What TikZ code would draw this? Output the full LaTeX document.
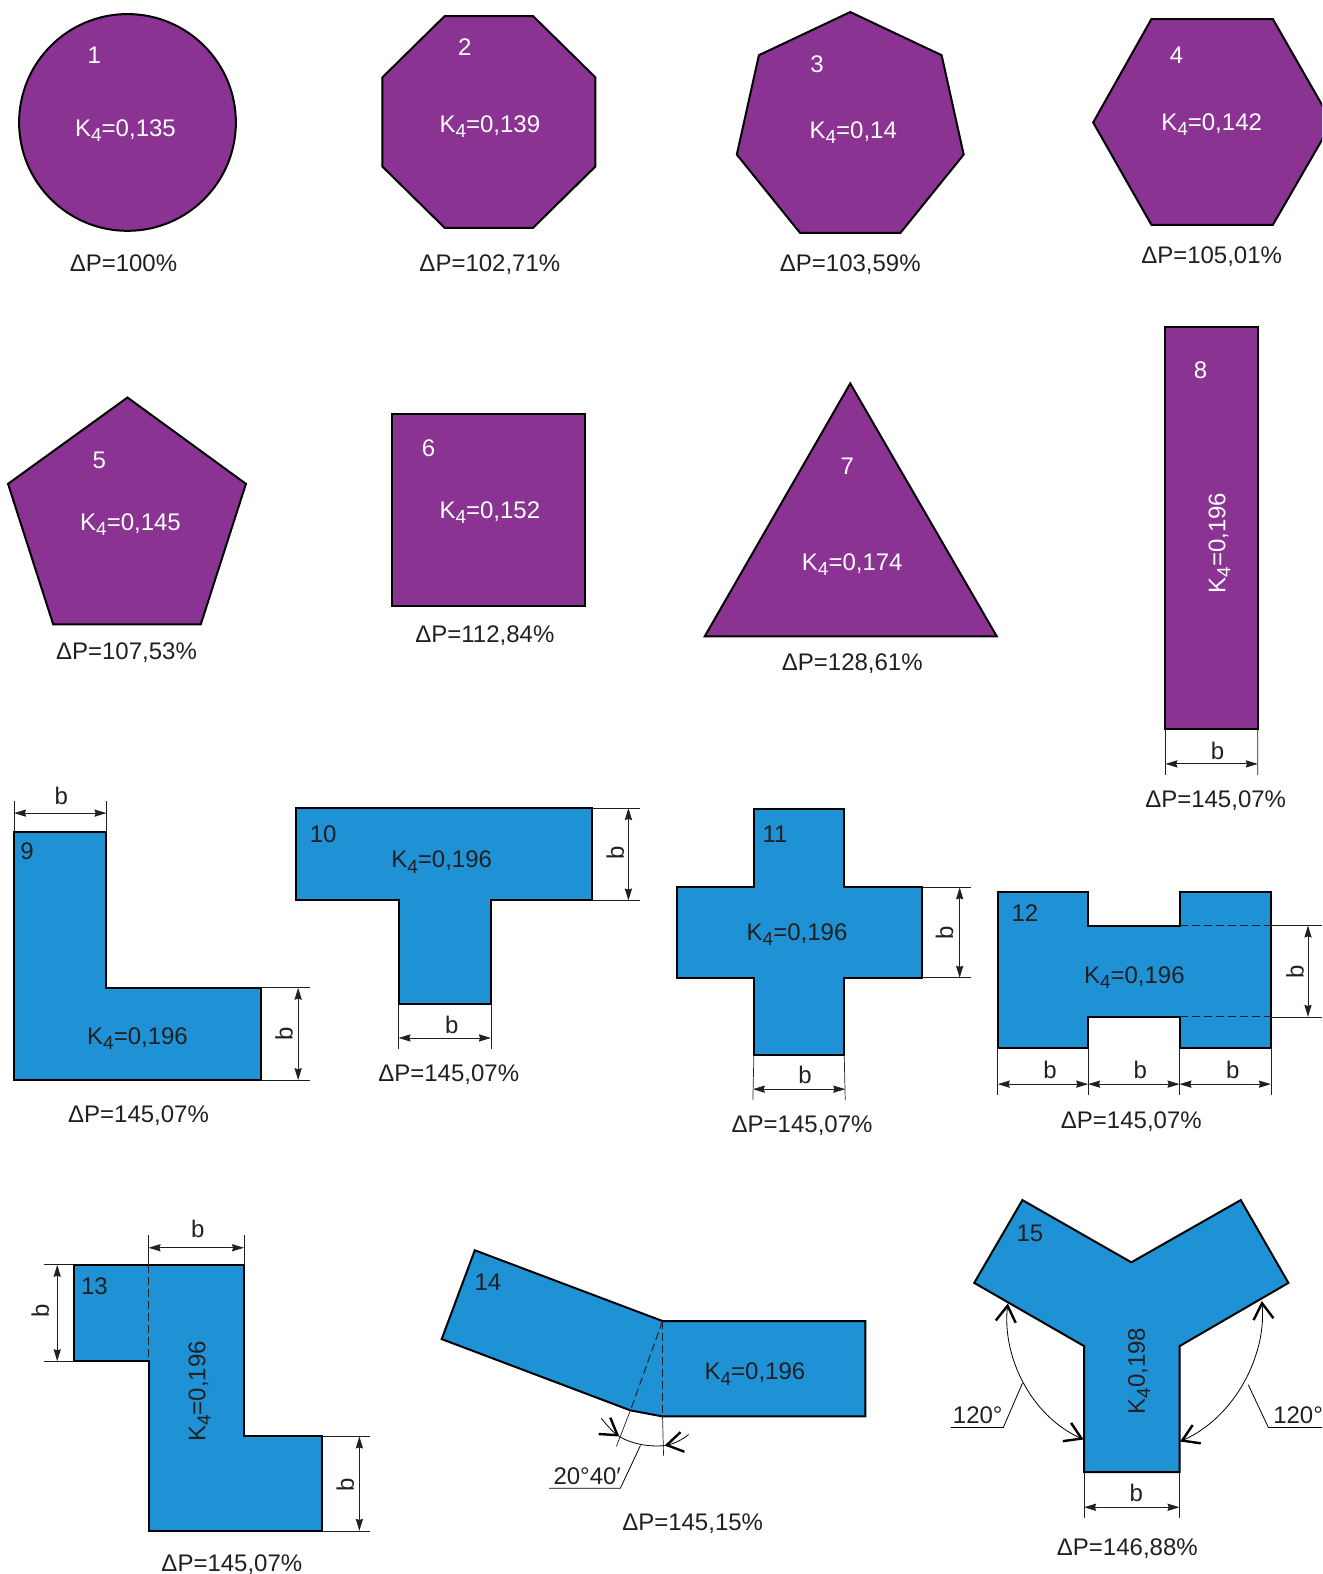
\documentclass[tikz,border=0pt]{standalone}
\usepackage{fontspec}
\setmainfont{Liberation Sans}
\usetikzlibrary{arrows.meta}
\definecolor{shapepurple}{RGB}{139,51,146}
\definecolor{shapeblue}{RGB}{30,146,212}
\definecolor{inkdark}{RGB}{35,31,32}
\newcommand{\kfour}{K\raisebox{-2.6pt}{\fontsize{9.5}{11}\selectfont 4}}
\tikzset{
    purpleshape/.style = {draw = black, fill = shapepurple, line width = 1pt, inner sep = 0pt, outer sep = 0pt, line join = miter},
    blueshape/.style = {draw = black, fill = shapeblue, line width = 1pt, line join = miter},
    txt/.style = {inkdark, inner sep = 0pt, text height = 8.6pt, text depth = 0pt, font = \fontsize{12}{14}\selectfont},
    whitetxt/.style = {txt, white},
    extline/.style = {draw = inkdark, line width = 0.35pt},
    dimline/.style = {draw = inkdark, line width = 0.45pt, {Stealth[length = 6pt, width = 3.6pt, inset = 0.6pt]}-{Stealth[length = 6pt, width = 3.6pt, inset = 0.6pt]}},
    hiddenline/.style = {draw = inkdark, line width = 0.5pt, dash pattern = on 4pt off 2pt},
    anglearc/.style = {draw = black, line width = 0.4pt},
    angletip/.style = {{Straight Barb[length = 8pt, width = 10pt, line width = 1.2pt]}-{Straight Barb[length = 8pt, width = 10pt, line width = 1.2pt]}},
    angleend/.style = {-{Straight Barb[length = 8pt, width = 10pt, line width = 1.2pt]}}
}
\begin{document}
\begin{tikzpicture}[x = 0.502pt, y = -0.502pt]
    \useasboundingbox (0,0) rectangle (1317,1568);
    \clip (0,0) rectangle (1317,1568);
    %Circle
    \node [purpleshape, circle, minimum size = 108.4pt] (s1)at(127,122){};
    \node [whitetxt] (n1)at(94,55){1};
    \node [whitetxt] (k1)at(125,127){\kfour=0,135};
    \node [txt] (p1)at(123,262){ΔP=100\%};
    %Octagon
    \draw [purpleshape] (443,16) -- (531,16) -- (593,77) -- (593,166) -- (531,227) -- (443,227) -- (381,166) -- (381,77) -- cycle;
    \node [whitetxt] (n2)at(463,47){2};
    \node [whitetxt] (k2)at(488,123){\kfour=0,139};
    \node [txt] (p2)at(488,262){ΔP=102,71\%};
    %Heptagon
    \draw [purpleshape] (847,12) -- (938,55) -- (960,154) -- (897,232) -- (797,232) -- (734,154) -- (756,55) -- cycle;
    \node [whitetxt] (n3)at(814,64){3};
    \node [whitetxt] (k3)at(850,129){\kfour=0,14};
    \node [txt] (p3)at(847,262){ΔP=103,59\%};
    %Hexagon
    \draw [purpleshape] (1089,122) -- (1147,19) -- (1268,19) -- (1327,122) -- (1268,224) -- (1147,224) -- cycle;
    \node [whitetxt] (n4)at(1172,55){4};
    \node [whitetxt] (k4)at(1207,121){\kfour=0,142};
    \node [txt] (p4)at(1207,254){ΔP=105,01\%};
    %Pentagon
    \draw [purpleshape] (127,396) -- (245,482) -- (200,622) -- (53,622) -- (8,482) -- cycle;
    \node [whitetxt] (n5)at(99,458){5};
    \node [whitetxt] (k5)at(130,520){\kfour=0,145};
    \node [txt] (p5)at(126,648){ΔP=107,53\%};
    %Square
    \node [purpleshape, minimum width = 96.4pt, minimum height = 96pt] (s6)at(487,508.5){};
    \node [whitetxt] (n6)at(427,446){6};
    \node [whitetxt] (k6)at(488,508){\kfour=0,152};
    \node [txt] (p6)at(483,631){ΔP=112,84\%};
    %Triangle
    \draw [purpleshape] (847,382) -- (993,634) -- (702,634) -- cycle;
    \node [whitetxt] (n7)at(844,464){7};
    \node [whitetxt] (k7)at(849,560){\kfour=0,174};
    \node [txt] (p7)at(849,659){ΔP=128,61\%};
    %Strip
    \node [purpleshape, minimum width = 46.2pt, minimum height = 200.8pt] (s8)at(1207,526){};
    \node [whitetxt] (n8)at(1196,368){8};
    \node [whitetxt, rotate = 90] (k8)at(1212,541){\kfour=0,196};
    \node [txt] (p8)at(1211,796){ΔP=145,07\%};
    \coordinate (e8a) at (1161,772);
    \coordinate (e8b) at (1253,772);
    \coordinate (m8a) at (1161,761);
    \coordinate (m8b) at (1253,761);
    \draw [extline] (s8.south west) -- (e8a);
    \draw [extline] (s8.south east) -- (e8b);
    \draw [dimline] (m8a) -- (m8b);
    \node [txt] (b8)at(1213,748){b};
    %L profile
    \draw [blueshape] (14,829) coordinate (c9a) -- (106,829) coordinate (c9b) -- (106,984) -- (260,984) coordinate (c9c) -- (260,1076) coordinate (c9d) -- (14,1076) -- cycle;
    \node [txt] (n9)at(27,848){9};
    \node [txt] (k9)at(137,1032){\kfour=0,196};
    \node [txt] (p9)at(138,1110){ΔP=145,07\%};
    \coordinate (e9a) at (14,798);
    \coordinate (e9b) at (106,798);
    \coordinate (m9a) at (14,810);
    \coordinate (m9b) at (106,810);
    \draw [extline] (c9a) -- (e9a);
    \draw [extline] (c9b) -- (e9b);
    \draw [dimline] (m9a) -- (m9b);
    \node [txt] (b9)at(61,793){b};
    \coordinate (e9c) at (309,984);
    \coordinate (e9d) at (309,1076);
    \coordinate (m9c) at (297,984);
    \coordinate (m9d) at (297,1076);
    \draw [extline] (c9c) -- (e9c);
    \draw [extline] (c9d) -- (e9d);
    \draw [dimline] (m9c) -- (m9d);
    \node [txt, rotate = 90] (b9r)at(283,1030){b};
    %T profile
    \draw [blueshape] (295,805) -- (590,805) coordinate (c10a) -- (590,897) coordinate (c10b) -- (489,897) -- (489,1000) coordinate (c10c) -- (397,1000) coordinate (c10d) -- (397,897) -- (295,897) -- cycle;
    \node [txt] (n10)at(322,831){10};
    \node [txt] (k10)at(440,856){\kfour=0,196};
    \node [txt] (p10)at(447,1069){ΔP=145,07\%};
    \coordinate (e10a) at (638,805);
    \coordinate (e10b) at (638,897);
    \coordinate (m10a) at (626,805);
    \coordinate (m10b) at (626,897);
    \draw [extline] (c10a) -- (e10a);
    \draw [extline] (c10b) -- (e10b);
    \draw [dimline] (m10a) -- (m10b);
    \node [txt, rotate = 90] (b10r)at(613,850){b};
    \coordinate (e10c) at (489,1045);
    \coordinate (e10d) at (397,1045);
    \coordinate (m10c) at (489,1034);
    \coordinate (m10d) at (397,1034);
    \draw [extline] (c10c) -- (e10c);
    \draw [extline] (c10d) -- (e10d);
    \draw [dimline] (m10d) -- (m10c);
    \node [txt] (b10)at(450,1021){b};
    %Cross
    \draw [blueshape] (751,806) -- (841,806) -- (841,884) -- (918,884) coordinate (c11a) -- (918,974) coordinate (c11b) -- (841,974) -- (841,1051) coordinate (c11c) -- (751,1051) coordinate (c11d) -- (751,974) -- (674,974) -- (674,884) -- (751,884) -- cycle;
    \node [txt] (n11)at(772,831){11};
    \node [txt] (k11)at(794,928){\kfour=0,196};
    \node [txt] (p11)at(799,1120){ΔP=145,07\%};
    \coordinate (e11a) at (967,884);
    \coordinate (e11b) at (967,974);
    \coordinate (m11a) at (956,884);
    \coordinate (m11b) at (956,974);
    \draw [extline] (c11a) -- (e11a);
    \draw [extline] (c11b) -- (e11b);
    \draw [dimline] (m11a) -- (m11b);
    \node [txt, rotate = 90] (b11r)at(941,929){b};
    \coordinate (e11c) at (842,1096);
    \coordinate (e11d) at (750,1096);
    \coordinate (m11c) at (842,1085);
    \coordinate (m11d) at (750,1085);
    \draw [extline] (c11c) -- (e11c);
    \draw [extline] (c11d) -- (e11d);
    \draw [dimline] (m11d) -- (m11c);
    \node [txt] (b11)at(802,1071){b};
    %I profile
    \draw [blueshape] (994,889) -- (1084,889) -- (1084,922) -- (1175,922) coordinate (c12a) -- (1175,889) -- (1266,889) -- (1266,1044) coordinate (c12h) -- (1175,1044) coordinate (c12g) -- (1175,1013) coordinate (c12b) -- (1084,1013) -- (1084,1044) coordinate (c12f) -- (994,1044) coordinate (c12e) -- cycle;
    \node [txt] (n12)at(1021,909){12};
    \node [txt] (k12)at(1130,971){\kfour=0,196};
    \node [txt] (p12)at(1127,1116){ΔP=145,07\%};
    \coordinate (r12a) at (1266,922);
    \coordinate (r12b) at (1266,1013);
    \coordinate (e12a) at (1317,922);
    \coordinate (e12b) at (1317,1013);
    \coordinate (m12a) at (1303,922);
    \coordinate (m12b) at (1303,1013);
    \draw [hiddenline] (c12a) -- (r12a);
    \draw [hiddenline] (c12b) -- (r12b);
    \draw [extline] (r12a) -- (e12a);
    \draw [extline] (r12b) -- (e12b);
    \draw [dimline] (m12a) -- (m12b);
    \node [txt, rotate = 90] (b12r)at(1290,968){b};
    \coordinate (e12e) at (994,1091);
    \coordinate (e12f) at (1084,1091);
    \coordinate (e12g) at (1175,1091);
    \coordinate (e12h) at (1266,1091);
    \coordinate (m12e) at (994,1080);
    \coordinate (m12f) at (1084,1080);
    \coordinate (m12g) at (1175,1080);
    \coordinate (m12h) at (1266,1080);
    \draw [extline] (c12e) -- (e12e);
    \draw [extline] (c12f) -- (e12f);
    \draw [extline] (c12g) -- (e12g);
    \draw [extline] (c12h) -- (e12h);
    \draw [dimline] (m12e) -- (m12f);
    \draw [dimline] (m12f) -- (m12g);
    \draw [dimline] (m12g) -- (m12h);
    \node [txt] (b12a)at(1046,1066){b};
    \node [txt] (b12b)at(1136,1066){b};
    \node [txt] (b12c)at(1228,1066){b};
    %Z profile
    \draw [blueshape] (74,1260) coordinate (c13a) -- (243,1260) coordinate (c13c) -- (243,1431) -- (321,1431) coordinate (c13e) -- (321,1525) coordinate (c13f) -- (148,1525) -- (148,1356) coordinate (c13d) -- (74,1356) coordinate (c13b) -- cycle;
    \node [txt] (n13)at(94,1281){13};
    \node [txt, rotate = 90] (k13)at(196,1386){\kfour=0,196};
    \node [txt] (p13)at(231,1557){ΔP=145,07\%};
    \coordinate (t13) at (148,1260);
    \coordinate (e13c) at (148,1230);
    \coordinate (e13d) at (243,1230);
    \coordinate (m13c) at (148,1243);
    \coordinate (m13d) at (243,1243);
    \draw [hiddenline] (t13) -- (c13d);
    \draw [extline] (t13) -- (e13c);
    \draw [extline] (c13c) -- (e13d);
    \draw [dimline] (m13c) -- (m13d);
    \node [txt] (b13)at(197,1224){b};
    \coordinate (e13a) at (44,1260);
    \coordinate (e13b) at (44,1356);
    \coordinate (m13a) at (57,1260);
    \coordinate (m13b) at (57,1356);
    \draw [extline] (c13a) -- (e13a);
    \draw [extline] (c13b) -- (e13b);
    \draw [dimline] (m13a) -- (m13b);
    \node [txt, rotate = 90] (b13l)at(40,1306){b};
    \coordinate (e13e) at (369,1431);
    \coordinate (e13f) at (369,1525);
    \coordinate (m13e) at (358,1431);
    \coordinate (m13f) at (358,1525);
    \draw [extline] (c13e) -- (e13e);
    \draw [extline] (c13f) -- (e13f);
    \draw [dimline] (m13e) -- (m13f);
    \node [txt, rotate = 90] (b13r)at(344,1479){b};
    %Bent profile
    \draw [blueshape] (473,1245.5) -- (660,1316) coordinate (c14a) -- (862,1316) -- (862,1411) -- (660,1411) coordinate (c14b) -- (628,1405) coordinate (c14c) -- (440,1334) -- cycle;
    \node [txt] (n14)at(486,1277){14};
    \node [txt] (k14)at(752,1366){\kfour=0,196};
    \node [txt] (p14)at(690,1516){ΔP=145,15\%};
    \coordinate (e14a) at (614,1441);
    \coordinate (e14b) at (661,1450);
    \coordinate (tip14a) at (617,1431);
    \coordinate (tip14b) at (662,1440);
    \coordinate (tail14a) at (599,1413);
    \coordinate (tail14b) at (686,1429);
    \coordinate (arc14) at (638,1440);
    \coordinate (kn14) at (618,1482.5);
    \coordinate (end14) at (547,1482.5);
    \draw [hiddenline] (c14a) -- (c14b);
    \draw [hiddenline] (c14a) -- (c14c);
    \draw [extline] (c14b) -- (e14b);
    \draw [extline] (c14c) -- (e14a);
    \draw [anglearc, angleend] (tail14a) .. controls (604,1419) and (610,1426) .. (tip14a);
    \draw [anglearc, angleend] (tail14b) .. controls (680,1434) and (672,1438) .. (tip14b);
    \draw [anglearc] (tip14a) .. controls (626,1437) and (645,1442) .. (tip14b);
    \draw [anglearc] (arc14) -- (kn14) -- (end14);
    \node [txt] (a14)at(585,1470){20°40′};
    %Y profile
    \draw [blueshape] (1018.5,1195.5) -- (1127,1257.5) -- (1236,1195.5) -- (1283.5,1278) -- (1175,1341) -- (1175,1466.5) coordinate (c15a) -- (1080,1466.5) coordinate (c15b) -- (1080,1341) -- (970.5,1278) -- cycle;
    \node [txt] (n15)at(1026,1228){15};
    \node [txt, rotate = 90] (k15)at(1132,1366){\kfour 0,198};
    \node [txt] (p15)at(1123,1541){ΔP=146,88\%};
    \coordinate (e15a) at (1175,1512.5);
    \coordinate (e15b) at (1080,1512.5);
    \coordinate (m15a) at (1175,1501.5);
    \coordinate (m15b) at (1080,1501.5);
    \draw [extline] (c15a) -- (e15a);
    \draw [extline] (c15b) -- (e15b);
    \draw [dimline] (m15b) -- (m15a);
    \node [txt] (b15)at(1132,1487){b};
    \coordinate (tip15a) at (1004,1298.5);
    \coordinate (tip15b) at (1079.5,1434);
    \coordinate (tip15c) at (1257,1296);
    \coordinate (tip15d) at (1175.5,1436);
    \coordinate (arc15l) at (1018.5,1378);
    \coordinate (kn15l) at (999.5,1422);
    \coordinate (end15l) at (947,1422);
    \coordinate (arc15r) at (1243.5,1379.5);
    \coordinate (kn15r) at (1263.5,1422);
    \coordinate (end15r) at (1317,1422);
    \draw [anglearc, angletip] (tip15a) .. controls (998,1350) and (1026,1410) .. (tip15b);
    \draw [anglearc, angletip] (tip15c) .. controls (1262,1350) and (1230,1412) .. (tip15d);
    \draw [anglearc] (arc15l) -- (kn15l) -- (end15l);
    \draw [anglearc] (arc15r) -- (kn15r) -- (end15r);
    \node [txt] (a15l)at(974,1409){120°};
    \node [txt, anchor = west] (a15r)at(1268,1409){120°};
\end{tikzpicture}
\end{document}
